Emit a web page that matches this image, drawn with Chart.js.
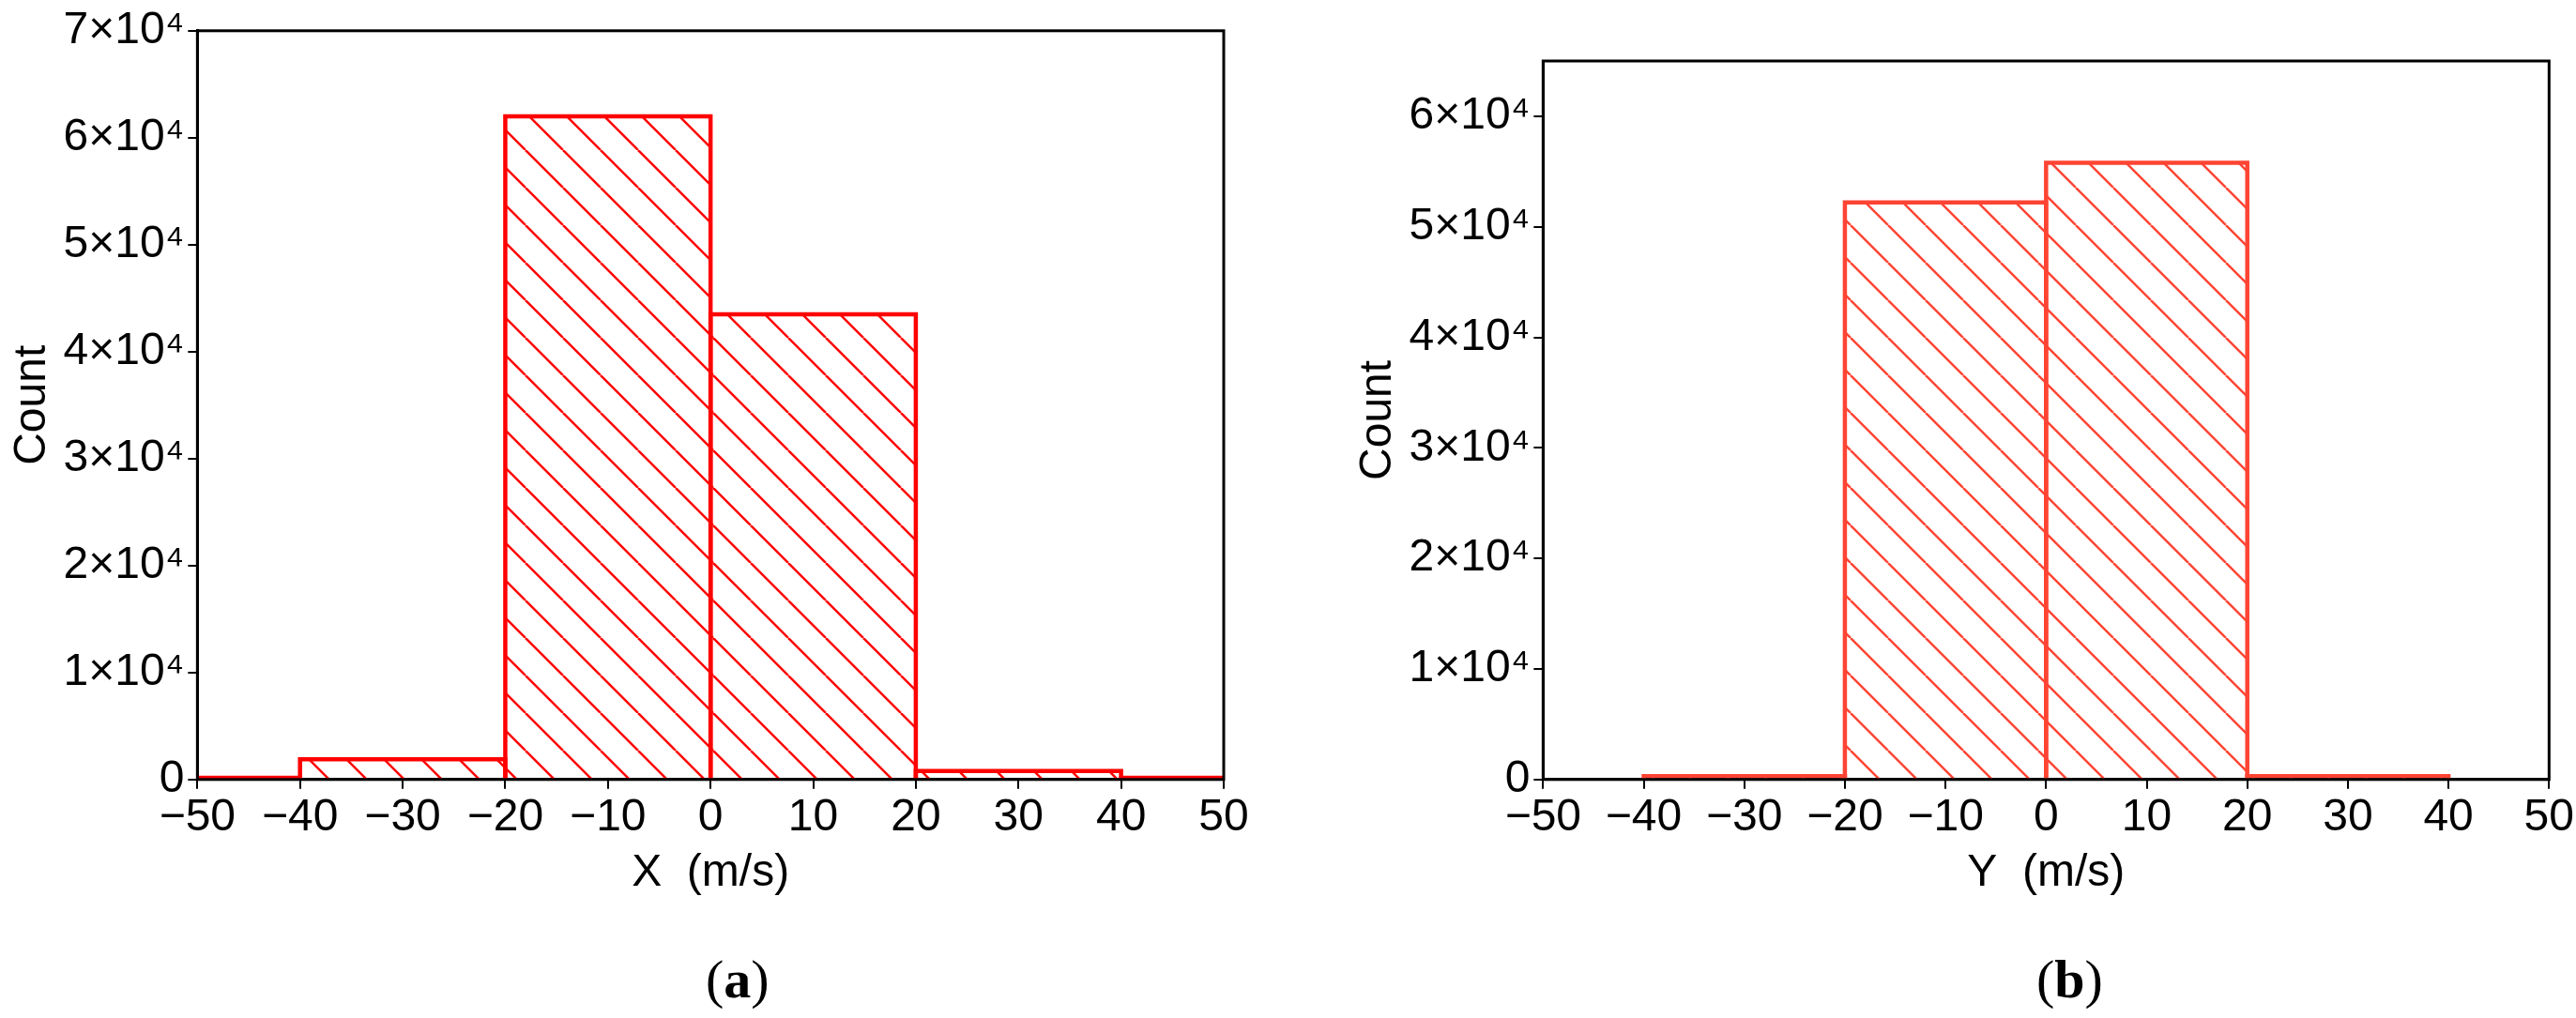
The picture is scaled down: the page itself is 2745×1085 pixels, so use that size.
<!DOCTYPE html>
<html>
<head>
<meta charset="utf-8">
<script src="https://cdn.jsdelivr.net/npm/chart.js@4"></script>
<style>
  body { margin: 0; background: #fff; width: 2745px; height: 1085px; position: relative; font-family: "Liberation Sans", Arial, sans-serif; }
  .box { position: absolute; }
  .cap { position: absolute; font-family: "Liberation Serif", "Times New Roman", serif; font-size: 58px; top: 1010px; }
</style>
</head>
<body>
<div class="box" style="left:0;top:0;width:1340px;height:960px"><canvas id="chartA"></canvas></div>
<div class="box" style="left:1372px;top:0;width:1373px;height:960px"><canvas id="chartB"></canvas></div>
<div class="cap" style="left:752px">(<b>a</b>)</div>
<div class="cap" style="left:2170px">(<b>b</b>)</div>
<script>
/* ===== data ===== */
const edgesA = [-50, -40, -20, 0, 20, 40, 50];
const countsA = [150, 1900, 62000, 43500, 800, 150];
const edgesB = [-40, -20, 0, 20, 40];
const countsB = [300, 52200, 55800, 300];
const xTicks = [-50, -40, -30, -20, -10, 0, 10, 20, 30, 40, 50];
const yTicksA = [0, 10000, 20000, 30000, 40000, 50000, 60000, 70000];
const yTicksB = [0, 10000, 20000, 30000, 40000, 50000, 60000];

/* ===== helpers ===== */
function hatch(color) {
  const c = document.createElement("canvas");
  c.width = 40; c.height = 40;
  const g = c.getContext("2d");
  g.strokeStyle = color;
  g.lineWidth = 2.5;
  for (let k = -1; k <= 1; k++) {
    g.beginPath();
    g.moveTo(k * 40, 0);
    g.lineTo(k * 40 + 40, 40);
    g.stroke();
  }
  return g.createPattern(c, "repeat");
}

function barSets(edges, counts, color) {
  const fill = hatch(color);
  return counts.map((v, i) => ({
    data: [
      { x: edges[i], y: 0 }, { x: edges[i], y: v },
      { x: edges[i + 1], y: v }, { x: edges[i + 1], y: 0 }
    ],
    borderColor: color,
    borderWidth: 4.5,
    backgroundColor: fill,
    fill: "origin",
    pointRadius: 0,
    tension: 0
  }));
}

const frame = {
  id: "frame",
  afterDraw(chart) {
    const a = chart.chartArea, g = chart.ctx;
    g.save();
    g.strokeStyle = "#000";
    g.lineWidth = 3;
    g.strokeRect(a.left, a.top, a.right - a.left, a.bottom - a.top);
    g.restore();
  }
};

const sup = n => n === 0 ? "0" : Math.round(n / 10000) + "×10⁴";

function makeChart(id, edges, counts, color, yMax, yTicks, xTitle, pad) {
  new Chart(document.getElementById(id), {
    type: "line",
    data: { datasets: barSets(edges, counts, color) },
    options: {
      animation: false,
      responsive: true,
      maintainAspectRatio: false,
      layout: { padding: pad },
      plugins: { legend: { display: false }, tooltip: { enabled: false } },
      scales: {
        x: {
          type: "linear", min: -50, max: 50,
          afterBuildTicks: s => { s.ticks = xTicks.map(v => ({ value: v })); },
          ticks: { color: "#000", font: { size: 48 }, maxRotation: 0, autoSkip: false, padding: 2,
                   callback: v => v < 0 ? "−" + Math.abs(v) : String(v) },
          grid: { drawOnChartArea: false, tickLength: 10, color: "#000", lineWidth: 2 },
          border: { color: "#000", width: 3 },
          title: { display: true, text: xTitle, color: "#000", font: { size: 48 }, padding: 0 }
        },
        y: {
          min: 0, max: yMax,
          afterBuildTicks: s => { s.ticks = yTicks.map(v => ({ value: v })); },
          ticks: { color: "#000", font: { size: 48 }, autoSkip: false, padding: 4, callback: v => sup(v) },
          grid: { drawOnChartArea: false, tickLength: 10, color: "#000", lineWidth: 2 },
          border: { color: "#000", width: 3 },
          title: { display: true, text: "Count", color: "#000", font: { size: 48 }, padding: 0 }
        }
      }
    },
    plugins: [frame]
  });
}

makeChart("chartA", edgesA, countsA, "#ff0000", 70000, yTicksA, "X  (m/s)", { top: 22, right: 36, left: 6 });
makeChart("chartB", edgesB, countsB, "#ff4433", 65000, yTicksB, "Y  (m/s)", { top: 65, right: 26, left: 68 });
</script>
</body>
</html>
